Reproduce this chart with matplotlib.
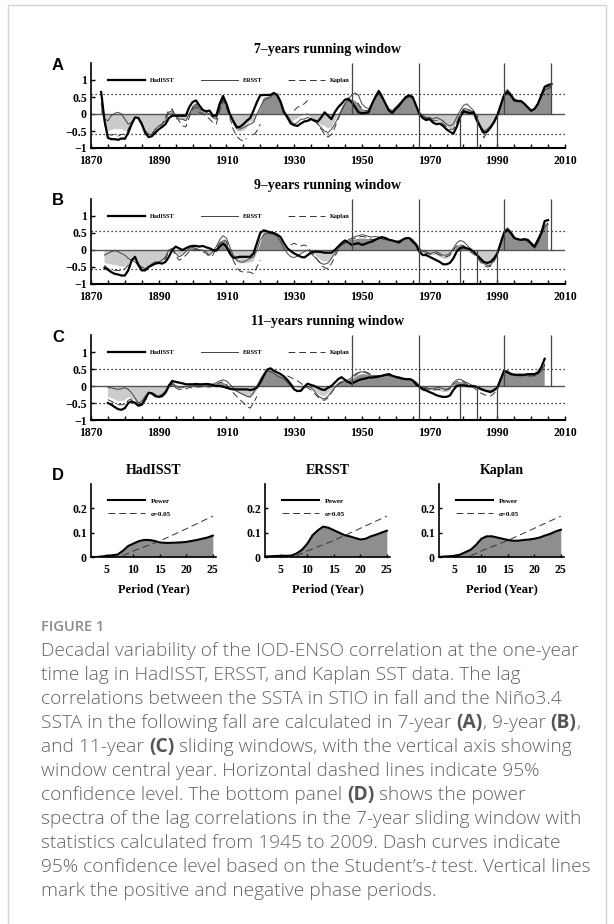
import numpy as np
import matplotlib
matplotlib.use("Agg")
import matplotlib.pyplot as plt
from matplotlib.patches import Rectangle

nan = np.nan
W, H = 614, 924

# ---------------- data: running-window lag correlations ----------------
years_7 = np.arange(1873, 2007)
had_7 = [0.65, -0.2, -0.7, -0.74, -0.74, -0.76, -0.72,
         -0.73, -0.55, -0.3, -0.1, -0.12, -0.3, -0.55, -0.68, -0.65, -0.55,
         -0.45, -0.38, -0.3, -0.12, -0.05, -0.05, -0.05, -0.05, -0.05, 0.2,
         0.35, 0.4, 0.25, 0.12, 0.08, 0.1, -0.05, -0.05, 0.3, 0.53,
         0.3, 0.0, -0.2, -0.38, -0.38, -0.3, -0.2, -0.12, 0.1, 0.35,
         0.55, 0.56, 0.56, 0.56, 0.62, 0.55, 0.35, 0.05, -0.1, -0.28,
         -0.33, -0.35, -0.28, -0.22, -0.2, -0.15, -0.2, -0.22, -0.1, 0.05,
         -0.05, -0.15, 0.05, 0.2, 0.3, 0.42, 0.45, 0.35, 0.2, 0.05,
         0.02, 0.03, 0.05, 0.3, 0.5, 0.68, 0.5, 0.3, 0.1, 0.03,
         0.15, 0.25, 0.38, 0.5, 0.55, 0.5, 0.25, 0.0, -0.12, -0.18,
         -0.15, -0.25, -0.3, -0.28, -0.35, -0.45, -0.52, -0.58, -0.38, -0.1,
         0.08, 0.05, 0.02, 0.05, -0.2, -0.38, -0.55, -0.52, -0.4, -0.25,
         -0.05, 0.25, 0.55, 0.65, 0.55, 0.4, 0.38, 0.38, 0.3, 0.2,
         0.1, 0.15, 0.3, 0.55, 0.8, 0.85, 0.88]
ers_7 = [0.3, -0.15, -0.2, -0.05, 0.02, 0.05, 0.0,
         -0.15, -0.3, -0.25, -0.1, -0.1, -0.25, -0.5, -0.6, -0.6, -0.45,
         -0.35, -0.3, -0.2, 0.05, 0.1, -0.05, -0.15, -0.15, -0.2, 0.0,
         0.2, 0.3, 0.15, 0.1, 0.05, 0.0, -0.1, -0.15, 0.2, 0.45,
         0.3, 0.0, -0.25, -0.42, -0.45, -0.4, -0.35, -0.3, -0.25, 0.0,
         0.2, 0.4, 0.45, 0.5, 0.6, 0.6, 0.4, 0.1, -0.05, -0.2,
         -0.3, -0.25, -0.15, -0.15, -0.1, -0.15, -0.2, -0.3, -0.4, -0.5,
         -0.55, -0.45, -0.3, -0.1, 0.1, 0.3, 0.45, 0.55, 0.62, 0.55,
         0.3, 0.2, 0.15, 0.3, 0.5, 0.6, 0.45, 0.3, 0.15, 0.1,
         0.2, 0.3, 0.4, 0.45, 0.5, 0.45, 0.25, 0.05, -0.05, -0.1,
         -0.1, -0.15, -0.1, -0.15, -0.2, -0.3, -0.35, -0.3, -0.1, 0.1,
         0.25, 0.3, 0.2, 0.1, -0.1, -0.35, -0.5, -0.45, -0.35, -0.2,
         0.0, 0.3, 0.6, 0.72, 0.6, 0.45, 0.4, 0.4, 0.3, 0.18,
         0.08, 0.15, 0.3, 0.5, 0.7, 0.75, 0.78]
kap_7 = [nan, -0.3, -0.6, -0.62, -0.6, -0.65, -0.6,
         -0.6, -0.45, -0.25, -0.1, -0.12, -0.3, -0.5, -0.6, -0.58, -0.45,
         -0.38, -0.3, -0.1, 0.12, 0.15, -0.1, -0.2, -0.35, -0.38, -0.1,
         0.15, 0.2, 0.05, 0.0, -0.05, -0.15, -0.25, -0.3, 0.1, 0.4,
         0.2, -0.1, -0.45, -0.65, -0.75, -0.8, -0.72, nan, -0.62, -0.5,
         -0.3, nan, nan, nan, nan, nan, nan, nan, nan, nan,
         0.1, 0.2, 0.25, 0.3, 0.4, nan, -0.15, -0.3, -0.45, -0.6,
         -0.68, -0.6, -0.4, -0.15, 0.1, 0.3, 0.4, 0.35, 0.35, 0.3,
         0.15, 0.1, 0.1, 0.3, 0.5, 0.62, 0.48, 0.3, 0.12, 0.06,
         0.18, 0.28, 0.4, 0.48, 0.52, 0.48, 0.25, 0.02, -0.08, -0.14,
         -0.12, -0.2, -0.2, -0.22, -0.28, -0.38, -0.45, -0.45, -0.25, 0.0,
         0.15, 0.18, 0.1, 0.05, -0.15, -0.4, -0.7, -0.55, -0.4, -0.22,
         -0.02, 0.28, 0.58, 0.7, 0.58, 0.42, 0.38, 0.38, 0.3, 0.18,
         0.08, 0.15, 0.3, 0.52, 0.75, 0.8, 0.82]

years_9 = np.arange(1874, 2006)
had_9 = [-0.52, -0.58, -0.65, -0.7, -0.72, -0.75,
         -0.75, -0.6, -0.31, -0.2, -0.45, -0.6, -0.6, -0.5, -0.45, -0.4,
         -0.38, -0.4, -0.35, -0.2, 0.0, 0.1, 0.05, 0.0, 0.05, 0.1,
         0.12, 0.12, 0.1, 0.12, 0.08, 0.05, 0.0, -0.02, 0.1, 0.19,
         0.1, -0.1, -0.23, -0.22, -0.2, -0.2, -0.2, -0.2, -0.1, 0.2,
         0.5, 0.58, 0.55, 0.52, 0.5, 0.45, 0.38, 0.2, 0.05, -0.03,
         -0.1, -0.15, -0.2, -0.22, -0.15, -0.08, -0.05, -0.05, -0.06, -0.08,
         -0.08, -0.08, 0.0, 0.1, 0.2, 0.28, 0.22, 0.15, 0.18, 0.2,
         0.15, 0.18, 0.22, 0.25, 0.3, 0.35, 0.38, 0.35, 0.3, 0.28,
         0.25, 0.22, 0.3, 0.35, 0.35, 0.25, 0.15, -0.05, -0.15, -0.15,
         -0.2, -0.25, -0.3, -0.35, -0.42, -0.42, -0.38, -0.25, -0.05, 0.05,
         0.08, 0.05, 0.02, -0.05, -0.15, -0.25, -0.35, -0.38, -0.35, -0.25,
         -0.1, 0.2, 0.5, 0.6, 0.5, 0.35, 0.32, 0.3, 0.32, 0.3,
         0.2, 0.1, 0.3, 0.5, 0.85, 0.88]
ers_9 = [-0.15, -0.1, -0.05, -0.02, -0.05, -0.1,
         -0.15, -0.25, -0.3, -0.35, -0.45, -0.5, -0.55, -0.5, -0.4, -0.35,
         -0.35, -0.3, -0.2, 0.0, 0.05, -0.1, -0.2, -0.15, -0.05, 0.05,
         0.08, 0.05, 0.0, -0.02, -0.05, -0.15, -0.05, 0.1, 0.3, 0.42,
         0.35, 0.1, -0.15, -0.3, -0.35, -0.35, -0.3, -0.25, -0.2, 0.0,
         0.3, 0.45, 0.5, 0.48, 0.45, 0.4, 0.25, 0.05, -0.1, -0.2,
         -0.22, -0.18, -0.1, -0.05, 0.0, -0.1, -0.2, -0.3, -0.4, -0.42,
         -0.38, -0.25, -0.1, 0.05, 0.15, 0.22, 0.3, 0.35, 0.4, 0.42,
         0.45, 0.43, 0.4, 0.38, 0.4, 0.38, 0.35, 0.33, 0.3, 0.28,
         0.25, 0.28, 0.3, 0.33, 0.35, 0.3, 0.2, 0.05, -0.05, -0.05,
         -0.1, -0.08, -0.05, -0.1, -0.15, -0.15, -0.1, 0.05, 0.2, 0.28,
         0.25, 0.15, 0.05, -0.05, -0.15, -0.3, -0.4, -0.45, -0.45, -0.3,
         -0.1, 0.25, 0.55, 0.65, 0.55, 0.4, 0.3, 0.3, 0.3, 0.25,
         0.15, 0.05, 0.2, 0.45, 0.7, 0.75]
kap_9 = [-0.45, -0.55, -0.58, -0.6, -0.6, -0.62,
         -0.55, -0.45, -0.3, -0.25, -0.4, -0.55, -0.55, -0.5, -0.42, -0.38,
         -0.38, -0.35, -0.25, -0.05, 0.0, -0.15, -0.3, -0.25, -0.15, -0.05,
         0.0, 0.0, -0.02, -0.05, -0.1, -0.2, -0.15, 0.05, 0.2, 0.32,
         0.25, 0.0, -0.3, -0.5, -0.62, -0.65, -0.65, -0.65, -0.7, -0.5,
         -0.3, nan, nan, nan, nan, nan, nan, nan, nan, 0.15,
         0.2, 0.15, 0.12, 0.15, 0.1, -0.05, -0.15, -0.3, -0.45, -0.52,
         -0.55, -0.4, -0.2, 0.0, 0.15, 0.2, 0.25, 0.3, 0.35, 0.38,
         0.4, 0.38, 0.35, 0.3, 0.32, 0.35, 0.33, 0.3, 0.28, 0.27,
         0.25, 0.27, 0.3, 0.35, 0.38, 0.3, 0.15, 0.0, -0.08, -0.1,
         -0.12, -0.12, -0.1, -0.15, -0.2, -0.2, -0.15, 0.0, 0.12, 0.15,
         0.12, 0.05, -0.05, -0.12, -0.2, -0.35, -0.45, -0.5, -0.48, -0.35,
         -0.15, 0.2, 0.5, 0.58, 0.5, 0.38, 0.3, 0.28, 0.3, 0.25,
         0.15, 0.08, 0.2, 0.45, 0.7, 0.8]

years_11 = np.arange(1875, 2005)
had_11 = [-0.5, -0.55, -0.62, -0.68, -0.7,
          -0.65, -0.5, -0.45, -0.5, -0.58, -0.55, -0.4, -0.2, -0.22, -0.3,
          -0.32, -0.3, -0.2, 0.0, 0.15, 0.12, 0.1, 0.08, 0.05, 0.05,
          0.05, 0.06, 0.05, 0.05, 0.06, 0.05, 0.03, 0.0, 0.0, -0.02,
          -0.05, -0.08, -0.1, -0.1, -0.1, -0.1, -0.1, -0.12, -0.1, -0.05,
          0.1, 0.3, 0.48, 0.52, 0.45, 0.4, 0.35, 0.28, 0.18, 0.05,
          -0.1, -0.15, -0.14, -0.02, 0.07, 0.03, 0.0, -0.05, -0.1, -0.12,
          -0.05, 0.0, 0.1, 0.2, 0.26, 0.18, 0.12, 0.07, 0.12, 0.17,
          0.2, 0.22, 0.25, 0.25, 0.26, 0.28, 0.3, 0.33, 0.35, 0.3,
          0.27, 0.25, 0.22, 0.2, 0.2, 0.17, 0.05, -0.02, -0.1, -0.13,
          -0.18, -0.22, -0.27, -0.3, -0.32, -0.32, -0.28, -0.12, 0.0, 0.02,
          0.02, 0.0, -0.01, 0.0, -0.03, -0.08, -0.12, -0.15, -0.17, -0.12,
          -0.05, 0.2, 0.45, 0.4, 0.35, 0.33, 0.33, 0.33, 0.33, 0.35,
          0.35, 0.35, 0.4, 0.55, 0.8]
ers_11 = [-0.05, -0.05, -0.08, -0.1, -0.08,
          -0.05, -0.1, -0.2, -0.35, -0.5, -0.45, -0.3, -0.2, -0.22, -0.28,
          -0.3, -0.28, -0.15, 0.05, 0.1, 0.0, -0.05, -0.05, -0.02, 0.0,
          0.0, 0.02, 0.02, 0.03, 0.03, 0.02, 0.05, 0.1, 0.15, 0.18,
          0.15, 0.05, -0.05, -0.15, -0.2, -0.25, -0.3, -0.32, -0.2, 0.0,
          0.2, 0.35, 0.45, 0.42, 0.38, 0.3, 0.25, 0.2, 0.1, 0.0,
          -0.1, -0.15, -0.12, -0.05, 0.0, -0.05, -0.15, -0.28, -0.35, -0.38,
          -0.3, -0.18, -0.05, 0.05, 0.12, 0.15, 0.18, 0.25, 0.35, 0.4,
          0.42, 0.4, 0.35, 0.3, 0.28, 0.3, 0.32, 0.33, 0.32, 0.3,
          0.25, 0.22, 0.2, 0.2, 0.2, 0.18, 0.1, 0.0, -0.05, -0.05,
          -0.08, -0.08, -0.05, -0.05, -0.08, -0.1, -0.05, 0.1, 0.18, 0.2,
          0.15, 0.1, 0.05, 0.0, -0.05, -0.1, -0.12, -0.15, -0.2, -0.15,
          -0.05, 0.2, 0.45, 0.45, 0.38, 0.35, 0.33, 0.33, 0.32, 0.3,
          0.3, 0.3, 0.35, 0.45, 0.6]
kap_11 = [-0.4, -0.45, -0.5, -0.55, -0.55,
          -0.55, -0.42, -0.38, -0.45, -0.55, -0.5, -0.35, -0.2, -0.2, -0.25,
          -0.28, -0.25, -0.15, 0.0, 0.05, -0.05, -0.1, -0.1, -0.08, -0.05,
          -0.05, -0.03, -0.03, -0.02, -0.02, -0.03, 0.0, 0.05, 0.1, 0.12,
          0.05, -0.1, -0.2, -0.3, -0.4, -0.5, -0.6, -0.65, -0.5, -0.3,
          nan, nan, nan, nan, nan, nan, nan, nan, 0.3, 0.25,
          0.2, 0.15, 0.08, 0.0, -0.05, -0.12, -0.22, -0.32, -0.4, -0.42,
          -0.35, -0.2, -0.05, 0.05, 0.1, 0.1, 0.1, 0.2, 0.3, 0.38,
          0.42, 0.42, 0.38, 0.33, 0.3, 0.3, 0.32, 0.32, 0.3, 0.28,
          0.25, 0.22, 0.2, 0.2, 0.22, 0.2, 0.12, 0.02, -0.05, -0.08,
          -0.1, -0.12, -0.1, -0.1, -0.12, -0.12, -0.08, 0.05, 0.12, 0.15,
          0.12, 0.05, 0.0, -0.05, -0.12, -0.2, -0.25, -0.28, -0.3, -0.22,
          -0.1, 0.15, 0.42, 0.4, 0.35, 0.32, 0.3, 0.3, 0.3, 0.3,
          0.3, 0.3, 0.35, 0.45, 0.65]

conf_levels = [0.6, 0.55, 0.5]          # 95% level of the 7/9/11-year windows
phase_top = [1947, 1992, 2006]          # lines from 0 to the top
phase_full = [1967]                     # full-height line
phase_bottom = [1979, 1984, 1990]       # lines from 0 to the bottom

# ---------------- data: power spectra (panel D) ----------------
period = np.arange(2, 26)
power_had = [0.0, 0.0, 0.002, 0.005, 0.007, 0.01, 0.025, 0.045, 0.055, 0.065, 0.07, 0.07,
             0.066, 0.06, 0.058, 0.058, 0.059, 0.06, 0.062, 0.066, 0.07, 0.075, 0.08, 0.088]
power_ers = [0.002, 0.003, 0.004, 0.005, 0.005, 0.006, 0.015, 0.03, 0.055, 0.09, 0.11, 0.125,
             0.12, 0.11, 0.1, 0.09, 0.085, 0.078, 0.072, 0.075, 0.085, 0.092, 0.1, 0.108]
power_kap = [0.0, 0.002, 0.003, 0.005, 0.01, 0.02, 0.03, 0.05, 0.075, 0.085, 0.085, 0.08,
             0.075, 0.07, 0.067, 0.067, 0.07, 0.072, 0.075, 0.08, 0.088, 0.095, 0.105, 0.112]
sig_period = [8, 10, 15, 20, 25]
sig_had = [0.005, 0.025, 0.066, 0.116, 0.168]
sig_ers = [0.005, 0.025, 0.068, 0.118, 0.168]
sig_kap = [0.005, 0.025, 0.068, 0.118, 0.168]

caption_lines = [
    [("Decadal variability of the IOD-ENSO correlation at the one-year", "n")],
    [("time lag in HadISST, ERSST, and Kaplan SST data. The lag", "n")],
    [("correlations between the SSTA in STIO in fall and the Niño3.4", "n")],
    [("SSTA in the following fall are calculated in 7-year ", "n"), ("(A)", "b"),
     (", 9-year ", "n"), ("(B)", "b"), (",", "n")],
    [("and 11-year ", "n"), ("(C)", "b"), (" sliding windows, with the vertical axis showing", "n")],
    [("window central year. Horizontal dashed lines indicate 95%", "n")],
    [("confidence level. The bottom panel ", "n"), ("(D)", "b"), (" shows the power", "n")],
    [("spectra of the lag correlations in the 7-year sliding window with", "n")],
    [("statistics calculated from 1945 to 2009. Dash curves indicate", "n")],
    [("95% confidence level based on the Student\u2019s-", "n"), ("t", "i"),
     (" test. Vertical lines", "n")],
    [("mark the positive and negative phase periods.", "n")],
]

# ---------------- figure ----------------
plt.rcParams['font.family'] = ['Liberation Serif', 'DejaVu Sans']
plt.rcParams['font.weight'] = 'bold'
plt.rcParams['axes.linewidth'] = 1.2

fig = plt.figure(figsize=(W / 100, H / 100), dpi=100)


def rect(l, t, r, b):
    return [l / W, 1 - b / H, (r - l) / W, (b - t) / H]


def ftext(x, y, s, **kw):
    return fig.text(x / W, 1 - y / H, s, **kw)


fig.add_artist(Rectangle((8 / W, -0.05), 598 / W, 1.05 - 5 / H, transform=fig.transFigure,
                         fill=False, ec='#d4d4d4', lw=1.0))

panels = [
    ("A", "7\u2013years running window", years_7, had_7, ers_7, kap_7, 63),
    ("B", "9\u2013years running window", years_9, had_9, ers_9, kap_9, 199),
    ("C", "11\u2013years running window", years_11, had_11, ers_11, kap_11, 335),
]

for (letter, title, yrs, had, ers, kap, top), thr in zip(panels, conf_levels):
    ax = fig.add_axes(rect(91, top, 565, top + 85))
    had = np.array(had, float)
    ers = np.array(ers, float)
    kap = np.array(kap, float)
    mean = np.nanmean(np.vstack([had, ers, kap]), axis=0)
    ax.fill_between(yrs, 0, mean, where=mean >= 0, interpolate=True, color='#8e8e8e', lw=0)
    ax.fill_between(yrs, 0, mean, where=mean <= 0, interpolate=True, color='#cbcbcb', lw=0)
    ax.axhline(0, color='#555555', lw=1.0)
    ax.axhline(thr, color='k', lw=0.9, ls=(0, (1, 2.2)))
    ax.axhline(-thr, color='k', lw=0.9, ls=(0, (1, 2.2)))
    l_kap, = ax.plot(yrs, kap, color='#333333', lw=0.7, ls=(0, (7, 4)))
    l_ers, = ax.plot(yrs, ers, color='#444444', lw=0.7)
    l_had, = ax.plot(yrs, had, color='k', lw=1.6)
    ax.vlines(phase_top, 0, 1.5, color='#444444', lw=0.9)
    ax.vlines(phase_full, -1, 1.5, color='#444444', lw=0.9)
    ax.vlines(phase_bottom, -1, 0, color='#444444', lw=0.9)
    ax.set_xlim(1870, 2010)
    ax.set_ylim(-1, 1.5)
    ax.set_xticks(np.arange(1870, 2011, 20))
    ax.set_xticks(np.arange(1870, 2011, 5), minor=True)
    ax.set_yticks([-1, -0.5, 0, 0.5, 1])
    ax.set_yticklabels(['\u22121', '\u22120.5', '0', '0.5', '1'])
    ax.tick_params(which='both', direction='in', length=3, width=1, labelsize=8.5)
    ax.tick_params(axis='x', pad=5)
    ax.tick_params(axis='y', pad=3)
    ax.spines['top'].set_visible(False)
    ax.spines['right'].set_visible(False)
    ax.spines['bottom'].set_linewidth(1.5)
    ax.patch.set_alpha(0)
    ax.legend([l_had, l_ers, l_kap], ['HadISST', 'ERSST', 'Kaplan'], loc='center left',
              bbox_to_anchor=(5 / 140, 0.8), ncol=3, frameon=False, fontsize=4.5,
              handlelength=5.9, handletextpad=0.8, columnspacing=4.2,
              borderpad=0, borderaxespad=0)
    ftext(328, top - 13, title, ha='center', va='center', fontsize=10)
    ftext(58, top + 2, letter, ha='center', va='center', fontsize=12,
          family='Liberation Sans', weight='bold')

# panel D
d_specs = [
    ("HadISST", power_had, sig_had, 91),
    ("ERSST", power_ers, sig_ers, 265),
    ("Kaplan", power_kap, sig_kap, 439),
]
for name, pw, sig, left in d_specs:
    ax = fig.add_axes(rect(left, 484, left + 125, 557))
    ax.fill_between(period, 0, pw, color='#8e8e8e', lw=0)
    h_pow, = ax.plot(period, pw, color='k', lw=1.5)
    h_sig, = ax.plot(sig_period, sig, color='#333333', lw=0.7, ls=(0, (7, 4)))
    ax.set_xlim(2, 25.6)
    ax.set_ylim(0, 0.3)
    ax.set_xticks([5, 10, 15, 20, 25])
    ax.set_yticks([0, 0.1, 0.2])
    ax.set_yticklabels(['0', '0.1', '0.2'])
    ax.tick_params(direction='in', length=2, width=1, labelsize=8.5)
    ax.tick_params(axis='x', pad=5)
    ax.tick_params(axis='y', pad=3)
    ax.spines['top'].set_visible(False)
    ax.spines['right'].set_visible(False)
    ax.patch.set_alpha(0)
    ax.legend([h_pow, h_sig], ['Power', '\u03b1=0.05'], loc='center left',
              bbox_to_anchor=(0.136, 0.68), frameon=False, fontsize=5,
              handlelength=5.3, handletextpad=0.8, labelspacing=1.0,
              borderpad=0, borderaxespad=0)
    ftext(left + 63, 470, name, ha='center', va='center', fontsize=10)
    ftext(left + 63, 589, "Period (Year)", ha='center', va='center', fontsize=9)

ftext(58, 476, "D", ha='center', va='center', fontsize=12, family='Liberation Sans', weight='bold')

# caption
ftext(41, 627, "FIGURE 1", ha='left', va='center', fontsize=10.5, family='Open Sans',
      weight='semibold', color='#8a8a8a')

renderer = fig.canvas.get_renderer()
styles = {
    "n": dict(family='Open Sans', weight='light', color='#626262'),
    "b": dict(family='Open Sans', weight='bold', color='#555555'),
    "i": dict(family='Open Sans', weight='light', style='italic', color='#626262'),
}


def seg_width(s, st, size):
    t1 = fig.text(0, 0, s + '|', fontsize=size, **st)
    t2 = fig.text(0, 0, '|', fontsize=size, **st)
    w = t1.get_window_extent(renderer).width - t2.get_window_extent(renderer).width
    t1.remove()
    t2.remove()
    return w


cap_size = 13.8
for i, line in enumerate(caption_lines):
    x = 41
    y = 651 + 24.0 * i
    for s, key in line:
        ftext(x, y, s, ha='left', va='center', fontsize=cap_size, **styles[key])
        x += seg_width(s, styles[key], cap_size)

fig.savefig("out.png", dpi=100)
